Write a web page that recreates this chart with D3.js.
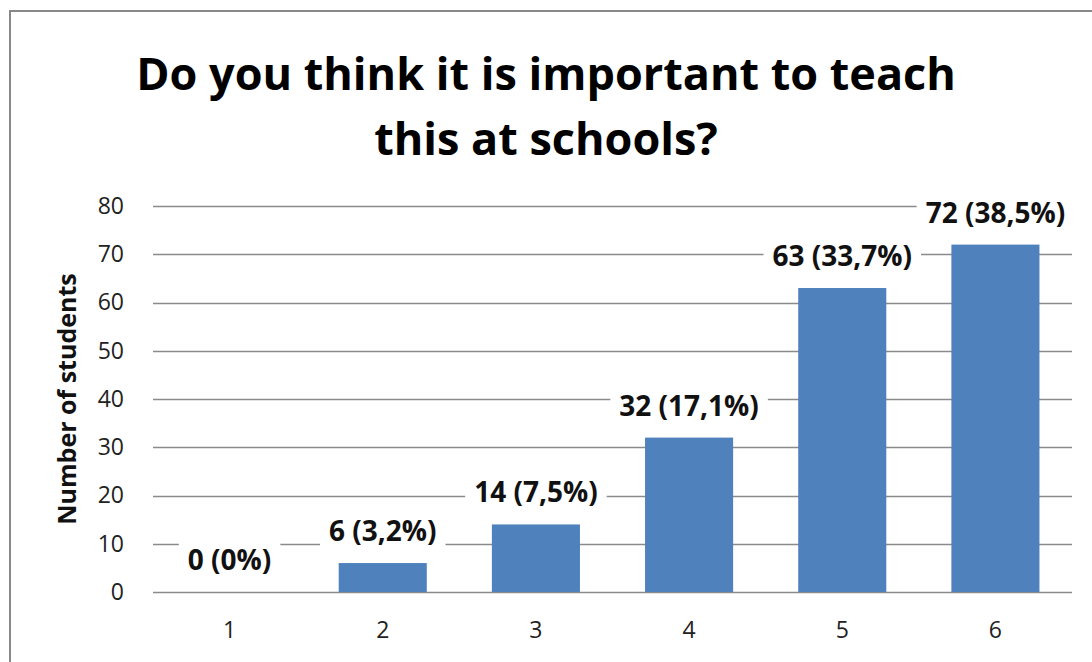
<!DOCTYPE html>
<html>
<head>
<meta charset="utf-8">
<script src="https://cdn.jsdelivr.net/npm/d3@7"></script>
<style>
  body { margin: 0; background: #fff; }
  svg text { font-family: "Open Sans", Lato, sans-serif; }
</style>
</head>
<body>
<div id="chart"></div>
<script>
// data
var categories = ["1", "2", "3", "4", "5", "6"];
var counts = [0, 6, 14, 32, 63, 72];
var labels = ["0 (0%)", "6 (3,2%)", "14 (7,5%)", "32 (17,1%)", "63 (33,7%)", "72 (38,5%)"];
var yTicks = [0, 10, 20, 30, 40, 50, 60, 70, 80];
var titleLines = ["Do you think it is important to teach", "this at schools?"];
var yTitle = "Number of students";

var W = 1092, H = 662;
var plotLeft = 153, plotRight = 1072, plotTop = 206, plotBottom = 592;

var svg = d3.select("#chart").append("svg")
    .attr("width", W)
    .attr("height", H);

// chart frame (cut off by the picture at right and bottom)
svg.append("rect")
    .attr("x", 10).attr("y", 11)
    .attr("width", W + 20).attr("height", H + 20)
    .style("fill", "#fff")
    .style("stroke", "#888")
    .style("stroke-width", 2);

var x = d3.scaleBand()
    .domain(categories)
    .range([plotLeft, plotRight])
    .paddingInner(0.425)
    .paddingOuter(0.2125);

var y = d3.scaleLinear()
    .domain([0, 80])
    .range([plotBottom, plotTop]);

// gridlines
svg.append("g")
    .selectAll("line")
    .data(yTicks)
    .enter().append("line")
    .attr("x1", plotLeft).attr("x2", plotRight)
    .attr("y1", function(d) { return Math.round(y(d)) + 0.5; })
    .attr("y2", function(d) { return Math.round(y(d)) + 0.5; })
    .style("stroke", "#8a8a8a")
    .style("stroke-width", 1.3);

// y axis labels
var yAxis = d3.axisLeft(y).tickValues(yTicks).tickSize(0).tickPadding(0);
var gy = svg.append("g")
    .attr("transform", "translate(124,0)")
    .call(yAxis);
gy.select(".domain").remove();
gy.selectAll("text")
    .style("font-family", "'Open Sans', Lato, sans-serif")
    .style("font-size", "23px")
    .style("fill", "#222");

// x axis labels
var xAxis = d3.axisBottom(x).tickSize(0).tickPadding(0);
var gx = svg.append("g")
    .attr("transform", "translate(0," + 622 + ")")
    .call(xAxis);
gx.select(".domain").remove();
gx.selectAll("text")
    .attr("dy", "0.71em")
    .style("font-family", "'Open Sans', Lato, sans-serif")
    .style("font-size", "23px")
    .style("fill", "#222");

// bars
svg.append("g")
    .selectAll("rect")
    .data(counts)
    .enter().append("rect")
    .attr("x", function(d, i) { return x(categories[i]); })
    .attr("y", function(d) { return y(d); })
    .attr("width", x.bandwidth())
    .attr("height", function(d) { return plotBottom - y(d); })
    .style("fill", "#4f81bd");

// value labels with white boxes
var lab = svg.append("g")
    .selectAll("g")
    .data(counts)
    .enter().append("g");

lab.append("text")
    .attr("x", function(d, i) { return x(categories[i]) + x.bandwidth() / 2; })
    .attr("y", function(d) { return y(d) - 22; })
    .attr("text-anchor", "middle")
    .style("font-size", "28px")
    .style("font-weight", "bold")
    .style("fill", "#111")
    .text(function(d, i) { return labels[i]; });

lab.each(function() {
  var g = d3.select(this);
  var bb = g.select("text").node().getBBox();
  g.insert("rect", "text")
      .attr("x", bb.x - 9)
      .attr("y", bb.y - 3)
      .attr("width", bb.width + 18)
      .attr("height", bb.height + 6)
      .style("fill", "#fff");
});

// title
svg.append("text")
    .attr("x", 546)
    .attr("text-anchor", "middle")
    .style("font-size", "45px")
    .style("font-weight", "bold")
    .style("fill", "#000")
    .selectAll("tspan")
    .data(titleLines)
    .enter().append("tspan")
    .attr("x", 546)
    .attr("y", function(d, i) { return 90 + i * 65; })
    .text(function(d) { return d; });

// y axis title
svg.append("text")
    .attr("transform", "translate(76," + ((plotTop + plotBottom) / 2) + ") rotate(-90)")
    .attr("text-anchor", "middle")
    .style("font-size", "25px")
    .style("font-weight", "bold")
    .style("fill", "#111")
    .text(yTitle);
</script>
</body>
</html>
